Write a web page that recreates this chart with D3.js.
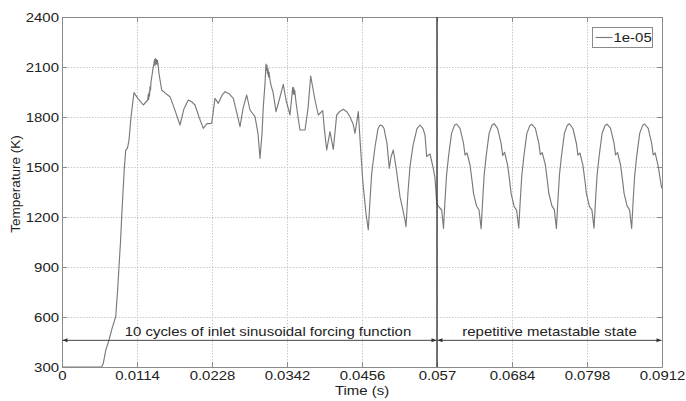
<!DOCTYPE html>
<html><head><meta charset="utf-8">
<script src="https://cdn.jsdelivr.net/npm/d3@7"></script>
<style>body{margin:0;background:#fff}text{font-family:"Liberation Sans",Arial,sans-serif;fill:#222}</style>
</head><body>
<svg id="chart" width="686" height="401"></svg>
<script>
// ---------- data ----------
const xTickValues = [0, 0.0114, 0.0228, 0.0342, 0.0456, 0.057, 0.0684, 0.0798, 0.0912];
const xTickLabels = ["0", "0.0114", "0.0228", "0.0342", "0.0456", "0.057", "0.0684", "0.0798", "0.0912"];
const yTickValues = [300, 600, 900, 1200, 1500, 1800, 2100, 2400];
const seriesName = "1e-05";
const xLabel = "Time (s)";
const yLabel = "Temperature (K)";
const annotations = [
  {text: "10 cycles of inlet sinusoidal forcing function", from: 0, to: 0.057, textAt: 0.0313},
  {text: "repetitive metastable state", from: 0.057, to: 0.0912, textAt: 0.0741}
];
const arrowTemp = 460;
const markerTime = 0.057;

// time in milliseconds, temperature in K
const rampTimeMs = [0, 6.034, 6.278, 6.642, 7.144, 7.6, 8.162, 8.436, 8.664, 8.892, 9.074, 9.272, 9.47, 9.682, 9.956, 10.184, 10.488, 10.944];
const rampTemp   = [300, 300, 322, 400, 462, 530, 602, 750, 902, 1050, 1202, 1350, 1492, 1600, 1615, 1660, 1800, 1946];

const forcedTimeMs = [11.552, 12.358, 13.026, 13.102, 13.163, 13.239, 13.3, 13.376, 13.452, 13.528, 13.68, 13.832, 13.984, 14.06, 14.136, 14.212, 14.288, 14.364, 14.44, 14.516, 14.638, 14.744, 15.154, 15.808, 16.416, 17.176, 17.936, 18.544, 19.198, 19.76, 20.216, 20.824, 21.478, 22.04, 22.754, 23.256, 23.758, 24.32, 24.776, 25.384, 26.038, 26.6, 27.056, 27.512, 28.074, 28.576, 29.336, 29.792, 30.096, 30.4, 30.598, 30.856, 31.008, 31.084, 31.16, 31.236, 31.312, 31.388, 31.464, 31.616, 31.768, 32.072, 32.528, 33.136, 33.638, 34.048, 34.656, 35.066, 35.142, 35.218, 35.294, 35.37, 35.568, 35.872, 36.176, 36.936, 37.392, 37.802, 38.456, 38.958, 39.626, 39.9, 40.234, 40.736, 41.238, 41.754, 42.256, 42.758, 43.32, 43.776, 44.232, 44.536, 45.038, 45.402, 45.752, 46.208, 46.558, 46.816, 47.074, 47.576, 48.032, 48.336, 48.64, 48.944, 49.4, 49.75, 50.008, 50.358, 50.768, 51.376, 51.832, 52.136, 52.288, 52.592, 52.896, 53.352, 53.96, 54.416, 54.872, 55.176, 55.434, 55.632, 55.936, 56.392, 56.696, 56.954, 57.304, 57.714];
const forcedTemp   = [1910, 1872, 1902, 1935, 1905, 1950, 1925, 1982, 1960, 2010, 2050, 2090, 2120, 2145, 2110, 2150, 2120, 2145, 2115, 2140, 2100, 2060, 1962, 1940, 1922, 1840, 1752, 1850, 1902, 1890, 1872, 1800, 1732, 1760, 1762, 1912, 1882, 1930, 1952, 1940, 1912, 1820, 1742, 1850, 1932, 1842, 1802, 1700, 1552, 1700, 1862, 2000, 2118, 2080, 2110, 2060, 2090, 2040, 2070, 2022, 1990, 1950, 1832, 1920, 1996, 1902, 1812, 1978, 1940, 1975, 1935, 1960, 1890, 1800, 1722, 1722, 1850, 2046, 1902, 1812, 1838, 1720, 1602, 1712, 1606, 1812, 1835, 1846, 1830, 1800, 1760, 1702, 1832, 1602, 1400, 1220, 1122, 1300, 1462, 1620, 1730, 1752, 1748, 1732, 1640, 1492, 1560, 1602, 1500, 1322, 1240, 1180, 1142, 1350, 1502, 1630, 1730, 1752, 1730, 1692, 1562, 1570, 1578, 1500, 1432, 1282, 1260, 1242];

const metaTimeMs = [57.99, 58.22, 58.45, 58.75, 59.21, 59.66, 59.97, 60.5, 61.03, 61.26, 61.56, 62.02, 62.32, 62.55, 63.01, 63.39,
  63.71, 63.94, 64.17, 64.47, 64.93, 65.38, 65.69, 66.22, 66.75, 66.98, 67.28, 67.74, 68.04, 68.27, 68.73, 69.11,
  69.43, 69.66, 69.89, 70.19, 70.65, 71.1, 71.41, 71.94, 72.47, 72.7, 73.0, 73.46, 73.76, 73.99, 74.45, 74.83,
  75.15, 75.38, 75.61, 75.91, 76.37, 76.82, 77.13, 77.66, 78.19, 78.42, 78.72, 79.18, 79.48, 79.71, 80.17, 80.55,
  80.87, 81.1, 81.33, 81.63, 82.09, 82.54, 82.85, 83.38, 83.91, 84.14, 84.44, 84.9, 85.2, 85.43, 85.89, 86.27,
  86.59, 86.82, 87.05, 87.35, 87.81, 88.26, 88.57, 89.1, 89.63, 89.86, 90.16, 90.62, 91.15];
const metaTemp = [1132, 1302, 1450, 1562, 1702, 1750, 1758, 1732, 1642, 1572, 1585, 1512, 1420, 1342, 1266, 1242,
  1130, 1300, 1452, 1565, 1705, 1752, 1760, 1730, 1640, 1570, 1588, 1510, 1418, 1340, 1262, 1240,
  1134, 1304, 1448, 1560, 1700, 1748, 1756, 1733, 1645, 1574, 1586, 1514, 1422, 1344, 1268, 1244,
  1131, 1301, 1451, 1563, 1703, 1751, 1759, 1731, 1641, 1571, 1584, 1511, 1419, 1341, 1264, 1241,
  1133, 1303, 1449, 1561, 1701, 1749, 1757, 1732, 1643, 1573, 1587, 1513, 1421, 1343, 1267, 1243,
  1132, 1302, 1450, 1562, 1702, 1750, 1758, 1732, 1642, 1572, 1585, 1505, 1372];

// ---------- layout ----------
const svg = d3.select("#chart");
const W = 686, H = 401;
const m = {left: 62, right: 24, top: 17, bottom: 34};
const x = d3.scaleLinear().domain([0, 0.0912]).range([m.left, W - m.right]);
const y = d3.scaleLinear().domain([300, 2400]).range([H - m.bottom, m.top]);
const STRETCH = 1.15;
const FS = 13;
const lineColor = "#7a7a7a";

const series = [];
rampTimeMs.forEach((t, i) => series.push({t: t / 1000, v: rampTemp[i]}));
forcedTimeMs.forEach((t, i) => series.push({t: t / 1000, v: forcedTemp[i]}));
metaTimeMs.forEach((t, i) => series.push({t: t / 1000, v: metaTemp[i]}));

// grid
const grid = svg.append("g").attr("stroke", "#c8c8c8").attr("stroke-width", 1).attr("stroke-dasharray", "1.5,1.5");
grid.selectAll("line.v").data(xTickValues.slice(1, -1)).join("line")
  .attr("x1", d => Math.round(x(d)) + 0.5).attr("x2", d => Math.round(x(d)) + 0.5)
  .attr("y1", y(2400)).attr("y2", y(300));
grid.selectAll("line.h").data(yTickValues.slice(1, -1)).join("line")
  .attr("x1", x(0)).attr("x2", x(0.0912))
  .attr("y1", d => Math.round(y(d)) + 0.5).attr("y2", d => Math.round(y(d)) + 0.5);

// axes
const axColor = "#8a8a8a";
const gx = svg.append("g").attr("transform", `translate(0,${y(300)})`)
  .call(d3.axisBottom(x).tickValues(xTickValues).tickFormat((d, i) => xTickLabels[i]).tickSize(-5).tickSizeOuter(0));
const gy = svg.append("g").attr("transform", `translate(${x(0)},0)`)
  .call(d3.axisLeft(y).tickValues(yTickValues).tickFormat(d3.format("d")).tickSize(-5).tickSizeOuter(0));
const gt = svg.append("g").attr("transform", `translate(0,${y(2400)})`)
  .call(d3.axisTop(x).tickValues(xTickValues).tickFormat("").tickSize(-5).tickSizeOuter(0));
const gr = svg.append("g").attr("transform", `translate(${x(0.0912)},0)`)
  .call(d3.axisRight(y).tickValues(yTickValues).tickFormat("").tickSize(-5).tickSizeOuter(0));
[gx, gy, gt, gr].forEach(g => {
  g.selectAll("path,line").attr("stroke", axColor);
  g.selectAll("text").style("font-size", FS + "px").attr("fill", "#2a2a2a")
    .style("font-family", '"Liberation Sans", Arial, sans-serif');
});
gx.selectAll(".tick text").attr("y", null).attr("dy", null)
  .attr("transform", `translate(0,13) scale(${STRETCH},1)`);
gy.selectAll(".tick text").attr("x", null).attr("dy", null).attr("text-anchor", "end")
  .attr("transform", `translate(-3,4.6) scale(${STRETCH},1)`);

// axis titles
svg.append("text").attr("text-anchor", "middle")
  .attr("transform", `translate(${(x(0) + x(0.0912)) / 2},395) scale(${STRETCH},1)`)
  .style("font-size", FS + "px").text(xLabel);
svg.append("text").attr("text-anchor", "middle")
  .attr("transform", `translate(20,184) rotate(-90)`)
  .style("font-size", "13.5px").text(yLabel);

// data line
svg.append("clipPath").attr("id", "clip").append("rect")
  .attr("x", x(0)).attr("y", y(2400)).attr("width", x(0.0912) - x(0)).attr("height", y(300) - y(2400));
svg.append("path").datum(series)
  .attr("clip-path", "url(#clip)")
  .attr("fill", "none").attr("stroke", lineColor).attr("stroke-width", 1.15).attr("stroke-linejoin", "round")
  .attr("d", d3.line().x(d => x(d.t)).y(d => y(d.v)));

// vertical marker line
svg.append("line")
  .attr("x1", x(markerTime)).attr("x2", x(markerTime))
  .attr("y1", y(2400)).attr("y2", y(300))
  .attr("stroke", "#3a3a3a").attr("stroke-width", 1.4);

// arrows
const defs = svg.append("defs");
defs.append("marker").attr("id", "arrowEnd").attr("viewBox", "0 0 10 10")
  .attr("refX", 10).attr("refY", 5).attr("markerWidth", 7).attr("markerHeight", 5)
  .attr("orient", "auto-start-reverse").attr("markerUnits", "userSpaceOnUse")
  .append("path").attr("d", "M0,1 L10,5 L0,9 z").attr("fill", "#333");
const ann = svg.append("g");
ann.selectAll("line").data(annotations).join("line")
  .attr("x1", d => x(d.from) + 0.5).attr("x2", d => x(d.to) - 0.5)
  .attr("y1", y(arrowTemp)).attr("y2", y(arrowTemp))
  .attr("stroke", "#444").attr("stroke-width", 1)
  .attr("marker-start", "url(#arrowEnd)").attr("marker-end", "url(#arrowEnd)");
ann.selectAll("text").data(annotations).join("text")
  .attr("text-anchor", "middle")
  .attr("transform", d => `translate(${x(d.textAt)},${y(arrowTemp) - 4.5}) scale(${STRETCH},1)`)
  .style("font-size", FS + "px").text(d => d.text);

// legend
const lg = svg.append("g").attr("transform", "translate(592.5,27.5)");
lg.append("rect").attr("width", 60).attr("height", 20).attr("fill", "#fff").attr("stroke", "#8a8a8a");
lg.append("line").attr("x1", 3).attr("x2", 20).attr("y1", 10).attr("y2", 10)
  .attr("stroke", lineColor).attr("stroke-width", 1.15);
lg.append("text").attr("transform", `translate(21,14.6) scale(${STRETCH},1)`)
  .style("font-size", FS + "px").text(seriesName);
</script>
</body></html>
